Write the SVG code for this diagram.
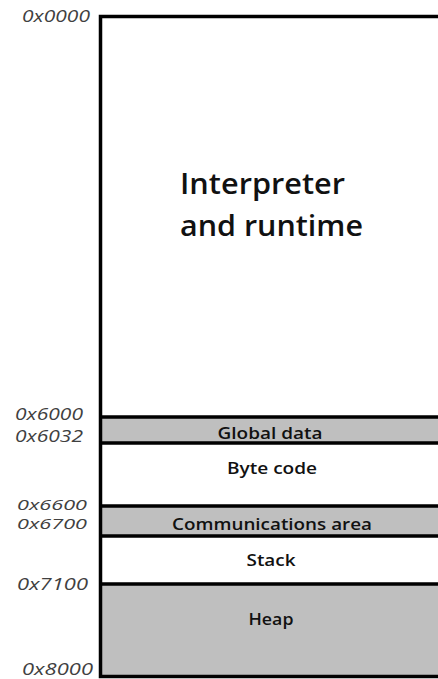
<svg xmlns="http://www.w3.org/2000/svg" width="438" height="679" viewBox="0 0 438 679">
<style>
.addr{font-family:"Open Sans","Liberation Sans",sans-serif;font-style:italic;font-size:15.5px;fill:#404040}
.tight{font-size:14px}
.lbl{font-family:"Open Sans","Liberation Sans",sans-serif;font-weight:600;font-size:15.5px;fill:#111;text-anchor:middle}
.big{font-family:"Open Sans","Liberation Sans",sans-serif;font-weight:600;font-size:29px;fill:#111}
.gray{fill:#bfbfbf}
.ln{stroke:#000;stroke-width:3.5;fill:none}
</style>
<rect width="438" height="679" fill="#fff"/>
<g id="interpreter">
<text class="big" x="180" y="194" textLength="165" lengthAdjust="spacingAndGlyphs">Interpreter</text>
<text class="big" x="180" y="236" textLength="183" lengthAdjust="spacingAndGlyphs">and runtime</text>
</g>
<g id="global-data">
<rect class="gray" x="100" y="417" width="338" height="26"/>
<text class="lbl" x="270" y="439" textLength="105" lengthAdjust="spacingAndGlyphs">Global data</text>
</g>
<g id="byte-code">
<text class="lbl" x="272" y="474" textLength="90" lengthAdjust="spacingAndGlyphs">Byte code</text>
</g>
<g id="comm-area">
<rect class="gray" x="100" y="506" width="338" height="30"/>
<text class="lbl" x="272" y="530" textLength="200" lengthAdjust="spacingAndGlyphs">Communications area</text>
</g>
<g id="stack">
<text class="lbl" x="271" y="566" textLength="49" lengthAdjust="spacingAndGlyphs">Stack</text>
</g>
<g id="heap">
<rect class="gray" x="100" y="584" width="338" height="93"/>
<text class="lbl" x="271" y="625" textLength="45" lengthAdjust="spacingAndGlyphs">Heap</text>
</g>
<g id="lines">
<path class="ln" d="M440 16.5 H100.5 V676.5 H440"/>
<path class="ln" d="M100 417 H440 M100 443 H440 M100 506 H440 M100 536 H440 M100 584 H440"/>
</g>
<g id="addresses">
<text class="addr" x="22" y="22" textLength="68" lengthAdjust="spacingAndGlyphs">0x0000</text>
<text class="addr" x="15" y="420" textLength="68" lengthAdjust="spacingAndGlyphs">0x6000</text>
<text class="addr" x="15" y="442" textLength="68" lengthAdjust="spacingAndGlyphs">0x6032</text>
<text class="addr tight" x="17" y="510" textLength="70" lengthAdjust="spacingAndGlyphs">0x6600</text>
<text class="addr tight" x="17" y="529" textLength="70" lengthAdjust="spacingAndGlyphs">0x6700</text>
<text class="addr" x="17" y="590" textLength="71" lengthAdjust="spacingAndGlyphs">0x7100</text>
<text class="addr" x="22" y="675" textLength="71" lengthAdjust="spacingAndGlyphs">0x8000</text>
</g>
</svg>
